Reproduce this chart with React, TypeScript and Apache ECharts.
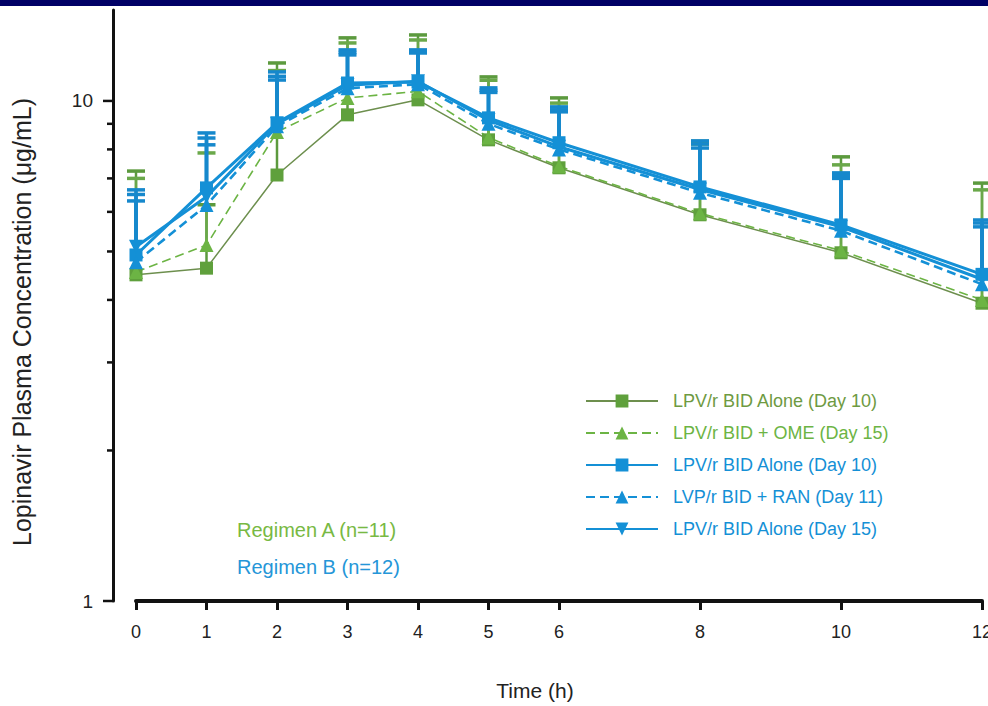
import React, { useEffect, useRef } from "react";
import * as echarts from "echarts";

// ---- data ----
const hours = [0, 1, 2, 3, 4, 5, 6, 8, 10, 12];
const xTickValues = [0, 1, 2, 3, 4, 5, 6, 8, 10, 12];
const yMajorTicks = [1, 10];
const yMinorTicks = [2, 3, 4, 5, 6, 7, 8, 9];

const seriesKeys = ["A1", "A2", "B1", "B2", "B3"];
const seriesLabels = [
  "LPV/r BID Alone (Day 10)",
  "LPV/r BID + OME (Day 15)",
  "LPV/r BID Alone (Day 10)",
  "LVP/r BID + RAN (Day 11)",
  "LPV/r BID Alone (Day 15)",
];

// mean concentrations (µg/mL)
const a1Mean = [4.49, 4.63, 7.11, 9.38, 10.05, 8.36, 7.35, 5.92, 4.97, 3.94];
const a2Mean = [4.55, 5.15, 8.67, 10.14, 10.45, 8.45, 7.4, 5.96, 5.02, 4.0];
const b1Mean = [4.92, 6.7, 9.04, 10.86, 10.91, 9.25, 8.25, 6.73, 5.65, 4.5];
const b2Mean = [4.76, 6.19, 8.9, 10.6, 10.8, 9.0, 8.0, 6.55, 5.5, 4.3];
const b3Mean = [5.11, 6.43, 9.0, 10.75, 10.95, 9.15, 8.1, 6.65, 5.6, 4.4];

// mean + SD (top of error bars)
const a1Upper = [7.24, 6.2, 11.91, 13.37, 13.55, 11.17, 10.14, 8.3, 7.73, 6.85];
const a2Upper = [7.0, 7.87, 11.5, 13.06, 13.24, 11.0, 9.9, 8.2, 7.45, 6.64];
const b1Upper = [6.64, 8.63, 11.43, 12.65, 12.65, 10.62, 9.73, 8.32, 7.18, 5.78];
const b2Upper = [6.31, 8.17, 11.01, 12.36, 12.47, 10.4, 9.51, 8.05, 7.0, 5.6];
const b3Upper = [6.5, 8.43, 11.2, 12.5, 12.55, 10.5, 9.6, 8.2, 7.1, 5.7];

const regimenTexts = ["Regimen A (n=11)", "Regimen B (n=12)"];

const FONT = "'Liberation Sans', Arial, Helvetica, sans-serif";
const BLUE = "#1490d6";
const GREEN = "#5fa03c";
const GREEN2 = "#6cb444";

export default function App() {
  const ref = useRef<HTMLDivElement>(null);

  useEffect(() => {
    if (!ref.current) return;
    const chart = echarts.init(ref.current, undefined, { renderer: "svg" });

    const means = [a1Mean, a2Mean, b1Mean, b2Mean, b3Mean];
    const uppers = [a1Upper, a2Upper, b1Upper, b2Upper, b3Upper];
    const lineColors = ["#6d8f4e", GREEN2, BLUE, BLUE, BLUE];
    const markColors = [GREEN, GREEN2, BLUE, BLUE, BLUE];
    const barColors = ["#5c9a3e", "#6aa84a", "#1688cc", "#1688cc", "#1688cc"];
    const widths = [1.5, 1.6, 3, 2.6, 3];
    const dashes: any[] = ["solid", [9, 5], "solid", [9, 5], "solid"];
    const symbols = ["rect", "triangle", "rect", "triangle", "triangle"];
    const rotations = [0, 0, 0, 0, 180];
    const zs = [2, 2, 3, 3, 3];
    const legendTextColors = ["#6e9a42", "#6cb444", BLUE, BLUE, BLUE];

    const lineSeries = seriesKeys.map((k, i) => ({
      name: k,
      type: "line",
      z: zs[i],
      data: hours.map((h, j) => [h, means[i][j]]),
      symbol: symbols[i],
      symbolSize: symbols[i] === "rect" ? 13 : 14,
      symbolRotate: rotations[i],
      lineStyle: { color: lineColors[i], width: widths[i], type: dashes[i] },
      itemStyle: { color: markColors[i] },
      emphasis: { disabled: true },
    }));

    const errSeries = seriesKeys.map((k, i) => ({
      name: k + "-err",
      type: "custom",
      z: zs[i],
      clip: false,
      encode: { x: 0, y: 1 },
      data: hours.map((h, j) => [h, means[i][j], uppers[i][j]]),
      renderItem: (params: any, api: any) => {
        const x = api.value(0);
        const p0 = api.coord([x, api.value(1)]);
        const p1 = api.coord([x, api.value(2)]);
        const c = barColors[i];
        return {
          type: "group",
          children: [
            { type: "line", shape: { x1: p0[0], y1: p0[1], x2: p1[0], y2: p1[1] }, style: { stroke: c, lineWidth: i < 2 ? 2.5 : 3.5 } },
            { type: "line", shape: { x1: p1[0] - 9, y1: p1[1], x2: p1[0] + 9, y2: p1[1] }, style: { stroke: c, lineWidth: 3.5 } },
          ],
        };
      },
    }));

    const yTickSeries = {
      name: "ytick",
      type: "custom",
      z: 5,
      clip: false,
      silent: true,
      encode: { x: 0, y: 1 },
      data: [...yMajorTicks.map((v) => [0, v, 1]), ...yMinorTicks.map((v) => [0, v, 0])],
      renderItem: (params: any, api: any) => {
        const p = api.coord([0, api.value(1)]);
        const ax = p[0] - 23;
        const len = api.value(2) ? 10 : 6;
        return {
          type: "line",
          shape: { x1: ax - len, y1: p[1], x2: ax, y2: p[1] },
          style: { stroke: "#111", lineWidth: 2.5 },
        };
      },
    };

    const option: any = {
      animation: false,
      backgroundColor: "#ffffff",
      grid: { left: 136, right: 6, top: 10, bottom: 105, containLabel: false, outerBoundsMode: "none" },
      xAxis: {
        type: "value",
        min: 0,
        max: 12,
        interval: 1,
        splitLine: { show: false },
        axisLine: { show: true, onZero: false, lineStyle: { color: "#111", width: 4 } },
        axisTick: { show: true, length: 9, lineStyle: { color: "#111", width: 3 }, customValues: xTickValues },
        axisLabel: {
          customValues: xTickValues,
          margin: 22,
          color: "#222",
          fontFamily: FONT,
          fontSize: 18,
          formatter: (v: number) => (xTickValues.includes(v) ? String(v) : ""),
        },
      },
      yAxis: {
        type: "log",
        logBase: 10,
        min: 1,
        max: 15.2,
        offset: 23,
        splitLine: { show: false },
        axisLine: { show: true, onZero: false, lineStyle: { color: "#111", width: 3 } },
        axisTick: { show: false },
        minorTick: { show: false },
        axisLabel: {
          margin: 20,
          color: "#222",
          fontFamily: FONT,
          fontSize: 19,
          formatter: (v: number) => {
            const l = Math.log10(v);
            return Math.abs(l - Math.round(l)) < 1e-6 && v <= 10.0001 ? String(Math.round(v)) : "";
          },
        },
      },
      legend: {
        orient: "vertical",
        left: 585,
        top: 392,
        padding: 0,
        itemWidth: 72,
        itemHeight: 16,
        itemGap: 14,
        selectedMode: false,
        formatter: (name: string) => seriesLabels[seriesKeys.indexOf(name)],
        textStyle: { fontFamily: FONT, fontSize: 18, padding: [0, 0, 0, 10] },
        data: seriesKeys.map((k, i) => ({ name: k, textStyle: { color: legendTextColors[i] } })),
      },
      graphic: [
        { type: "rect", shape: { x: 0, y: 0, width: 988, height: 6 }, style: { fill: "#000066" } },
        {
          type: "text",
          x: 22,
          y: 322,
          rotation: Math.PI / 2,
          style: {
            text: "Lopinavir Plasma Concentration (μg/mL)",
            align: "center",
            verticalAlign: "middle",
            fill: "#222",
            font: `25px ${FONT}`,
          },
        },
        {
          type: "text",
          x: 535,
          y: 690,
          style: { text: "Time (h)", align: "center", verticalAlign: "middle", fill: "#222", font: `21px ${FONT}` },
        },
        {
          type: "text",
          x: 237,
          y: 530,
          style: { text: regimenTexts[0], align: "left", verticalAlign: "middle", fill: "#78b943", font: `20px ${FONT}` },
        },
        {
          type: "text",
          x: 237,
          y: 567,
          style: { text: regimenTexts[1], align: "left", verticalAlign: "middle", fill: "#2596d8", font: `20px ${FONT}` },
        },
      ],
      series: [...lineSeries, ...errSeries, yTickSeries],
    };

    chart.setOption(option);
    return () => chart.dispose();
  }, []);

  return (
    <div
      ref={ref}
      style={{ position: "fixed", left: 0, top: 0, width: 988, height: 706, background: "#fff" }}
    />
  );
}
